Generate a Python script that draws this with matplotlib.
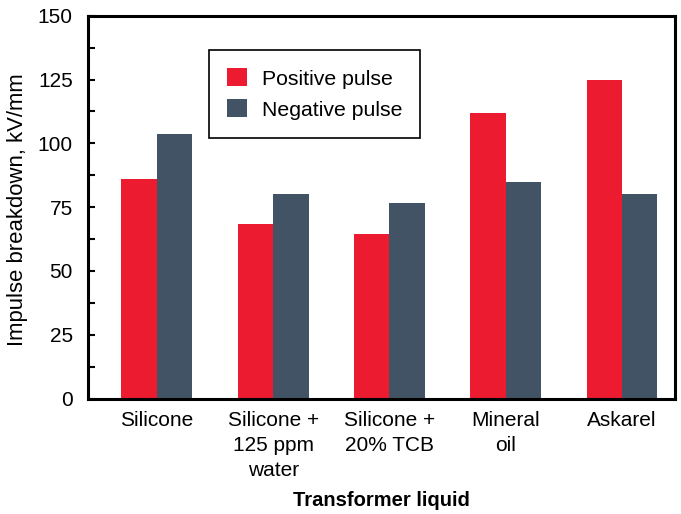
import numpy as np
import matplotlib
matplotlib.use('Agg')
import matplotlib.pyplot as plt
from matplotlib.ticker import MultipleLocator

plt.rcParams['font.family'] = ['Liberation Sans', 'DejaVu Sans']

liquids = ['Silicone', 'Silicone +\n125 ppm\nwater', 'Silicone +\n20% TCB', 'Mineral\noil', 'Askarel']
positive = [86, 68.5, 64.5, 112, 125]
negative = [103.5, 80, 76.5, 85, 80]

red = '#ED1B2F'
slate = '#415364'

fig = plt.figure(figsize=(6.81, 5.14), dpi=100)
ax = fig.add_axes([88 / 681, 1 - 398.5 / 514, 587 / 681, 382.8 / 514])

x = np.arange(len(liquids))
w = 0.305
ax.bar(x - w / 2, positive, w, color=red, label='Positive pulse', zorder=2)
ax.bar(x + w / 2, negative, w, color=slate, label='Negative pulse', zorder=2)

ax.set_xlim(-0.593, 4.456)
ax.set_ylim(0, 150)
ax.yaxis.set_major_locator(MultipleLocator(25))
ax.yaxis.set_minor_locator(MultipleLocator(12.5))
ax.tick_params(axis='y', which='both', direction='in', length=5, width=1.5, labelsize=15, pad=11)
ax.tick_params(axis='x', length=0, labelsize=15, pad=9)
ax.set_xticks(x)
ax.set_xticklabels(liquids, linespacing=1.4)

for s in ax.spines.values():
    s.set_linewidth(2.2)

ax.set_xlabel('Transformer liquid', fontsize=14.5, fontweight='bold')
ylab = ax.set_ylabel('Impulse breakdown, kV/mm', fontsize=14)
ax.xaxis.set_label_coords(0.5, -0.2416)
ax.yaxis.set_label_coords(-0.102, 0.494)

# size the y label so it spans about 275 px like the original
fig.canvas.draw()
h = ylab.get_window_extent().height
ylab.set_fontsize(14 * 275 / h)

leg = ax.legend(loc='upper left', bbox_to_anchor=(209 / 681, 1 - 50 / 514),
                bbox_transform=fig.transFigure, borderaxespad=0, fontsize=15.3,
                fancybox=False, framealpha=1, edgecolor='black',
                handlelength=0.95, handleheight=0.95, handletextpad=0.68,
                labelspacing=0.5, borderpad=0.85)
leg.get_frame().set_linewidth(1.2)

fig.savefig('out.png', dpi=100)
